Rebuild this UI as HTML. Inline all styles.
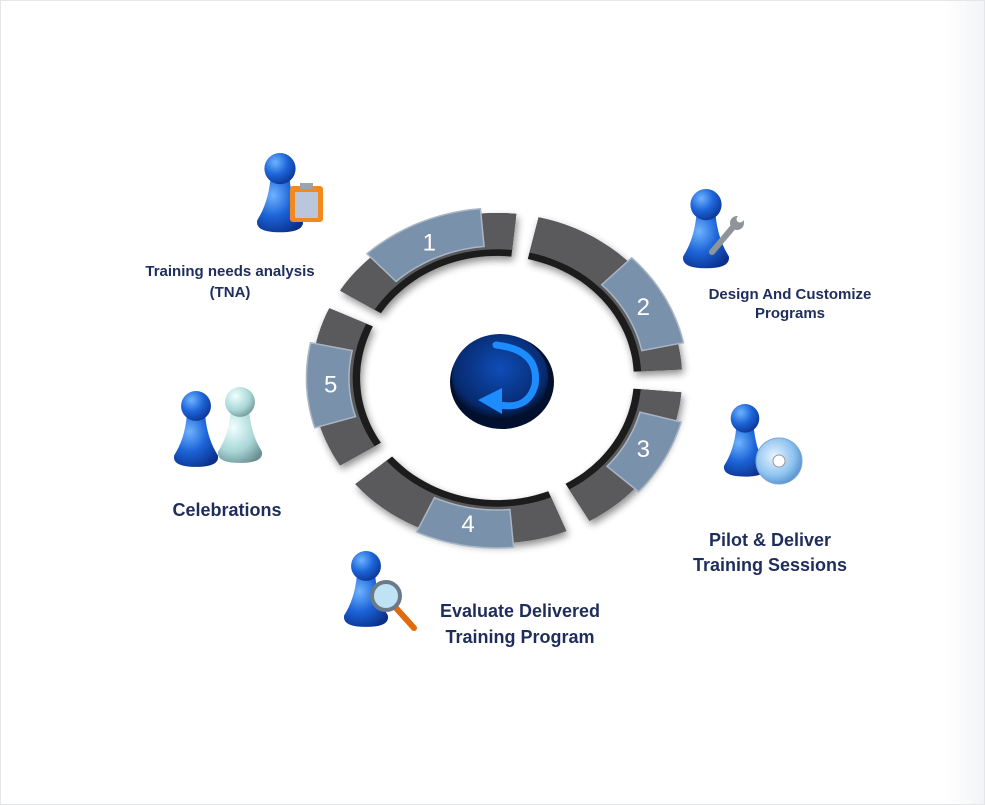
<!DOCTYPE html>
<html><head><meta charset="utf-8"><style>
html,body{margin:0;padding:0;background:#fff;}
body{width:985px;height:805px;overflow:hidden;position:relative;font-family:"Liberation Sans",sans-serif;}
.frame{position:absolute;left:0;top:0;width:983px;height:803px;border:1px solid #e4e6ea;background:linear-gradient(90deg,#fff 0,#fff 96%,#f3f4f6 100%);}
.t{position:absolute;color:#1f2d5c;font-weight:bold;text-align:center;white-space:nowrap;line-height:1;}
</style></head><body>
<div class="frame"></div>
<svg id="s" width="985" height="805" style="position:absolute;left:0;top:0">
<defs>
<radialGradient id="pg" cx="0.35" cy="0.3" r="0.8"><stop offset="0" stop-color="#6fb3ff"/><stop offset="0.5" stop-color="#1c64d8"/><stop offset="1" stop-color="#0b2f8a"/></radialGradient>
<radialGradient id="pg2" cx="0.35" cy="0.3" r="0.8"><stop offset="0" stop-color="#f0ffff"/><stop offset="0.6" stop-color="#a9d6d6"/><stop offset="1" stop-color="#6a8f92"/></radialGradient>
<radialGradient id="cb" cx="0.5" cy="0.4" r="0.6"><stop offset="0" stop-color="#0f4db8"/><stop offset="0.8" stop-color="#072a6e"/><stop offset="1" stop-color="#020c24"/></radialGradient>
<radialGradient id="cd" cx="0.4" cy="0.4" r="0.7"><stop offset="0" stop-color="#e8f4ff"/><stop offset="0.6" stop-color="#8fc3f0"/><stop offset="1" stop-color="#4a86c4"/></radialGradient>
<filter id="sh" x="-20%" y="-20%" width="140%" height="140%"><feGaussianBlur in="SourceAlpha" stdDeviation="4"/><feOffset dx="2" dy="4"/><feComponentTransfer><feFuncA type="linear" slope="0.45"/></feComponentTransfer><feMerge><feMergeNode/><feMergeNode in="SourceGraphic"/></feMerge></filter>
<g id="pawn"><path d="M-8,-18 Q-10,2 -19,16 Q-21,26 0,26 Q21,26 19,16 Q10,2 8,-18 Z"/><circle cx="0" cy="-27" r="13"/></g>
</defs>
<g id="ring" filter="url(#sh)"></g>
<g id="tabs"></g>
<ellipse cx="502" cy="382" rx="52" ry="47" fill="#021030"/>
<ellipse cx="500" cy="377" rx="48" ry="43" fill="url(#cb)"/>
<path d="M496,345 Q540,350 535,385 Q528,410 500,405" fill="none" stroke="#1d8cff" stroke-width="7" stroke-linecap="round"/>
<polygon points="478,400 502,388 502,414" fill="#1d8cff"/>
<use href="#pawn" transform="translate(280,201) scale(1.2)" fill="url(#pg)"/>
<rect x="290" y="186" width="33" height="36" rx="3" fill="#f08a1e"/><rect x="295" y="192" width="23" height="26" fill="#b9c6dc"/><rect x="300" y="183" width="13" height="6" fill="#9aa3b0"/>
<use href="#pawn" transform="translate(706,237) scale(1.2)" fill="url(#pg)"/>
<path d="M712,252 L734,226" stroke="#8f9499" stroke-width="6" stroke-linecap="round"/><circle cx="737" cy="223" r="7" fill="#8f9499"/><circle cx="740" cy="219" r="3.5" fill="#fff"/>
<use href="#pawn" transform="translate(745,448) scale(1.1)" fill="url(#pg)"/>
<circle cx="779" cy="461" r="23" fill="url(#cd)" stroke="#7aa7d4"/><circle cx="779" cy="461" r="6" fill="#fff" stroke="#999"/>
<use href="#pawn" transform="translate(240,433) scale(1.15)" fill="url(#pg2)"/>
<use href="#pawn" transform="translate(196,437) scale(1.15)" fill="url(#pg)"/>
<use href="#pawn" transform="translate(366,597) scale(1.15)" fill="url(#pg)"/>
<line x1="396" y1="608" x2="414" y2="628" stroke="#e06a10" stroke-width="6" stroke-linecap="round"/>
<circle cx="386" cy="596" r="14" fill="#bfe2f5" stroke="#6b7a88" stroke-width="4"/>
</svg>
<div class="t" style="left:110px;top:264px;width:240px;font-size:15px">Training needs analysis</div>
<div class="t" style="left:110px;top:285px;width:240px;font-size:15px">(TNA)</div>
<div class="t" style="left:670px;top:287px;width:240px;font-size:15px">Design And Customize</div>
<div class="t" style="left:670px;top:306px;width:240px;font-size:15px">Programs</div>
<div class="t" style="left:660px;top:531px;width:220px;font-size:18px">Pilot &amp; Deliver</div>
<div class="t" style="left:660px;top:556px;width:220px;font-size:18px">Training Sessions</div>
<div class="t" style="left:410px;top:602px;width:220px;font-size:18px">Evaluate Delivered</div>
<div class="t" style="left:410px;top:628px;width:220px;font-size:18px">Training Program</div>
<div class="t" style="left:117px;top:501px;width:220px;font-size:18px">Celebrations</div>
<script>
(function(){
var cx=497,cy=378,NS="http://www.w3.org/2000/svg";
function pt(a,rx,ry){var r=a*Math.PI/180;return (cx+rx*Math.cos(r)).toFixed(1)+","+(cy+ry*Math.sin(r)).toFixed(1);}
function arc(a0,a1,ro,ri){var d="M"+pt(a0,185*ro,165*ro),n=24,i;
for(i=1;i<=n;i++)d+=" L"+pt(a0+(a1-a0)*i/n,185*ro,165*ro);
for(i=n;i>=0;i--)d+=" L"+pt(a0+(a1-a0)*i/n,185*ri,165*ri);return d+"Z";}
var ring=document.getElementById("ring"),tabs=document.getElementById("tabs");
var segs=[[-148,-84],[-77,-3],[5,60],[68,140],[148,205]];
segs.forEach(function(s){
 var p=document.createElementNS(NS,"path");p.setAttribute("d",arc(s[0],s[1],1,0.74));p.setAttribute("fill","#1b1b1b");ring.appendChild(p);
 var q=document.createElementNS(NS,"path");q.setAttribute("d",arc(s[0],s[1],1,0.78));q.setAttribute("fill","#5a5a5c");ring.appendChild(q);
});
var tb=[[-133,-95,"1"],[-45,-12,"2"],[15,42,"3"],[85,115,"4"],[163,192,"5"]];
tb.forEach(function(t){
 var p=document.createElementNS(NS,"path");p.setAttribute("d",arc(t[0],t[1],1.03,0.8));p.setAttribute("fill","#7a91ab");p.setAttribute("stroke","#a9b6c6");p.setAttribute("stroke-width","1.5");tabs.appendChild(p);
 var m=(t[0]+t[1])/2,r=m*Math.PI/180;
 var x=document.createElementNS(NS,"text");x.setAttribute("x",cx+185*0.9*Math.cos(r));x.setAttribute("y",cy+165*0.9*Math.sin(r)+8);
 x.setAttribute("text-anchor","middle");x.setAttribute("fill","#fff");x.setAttribute("font-size","24");x.setAttribute("font-family","Liberation Sans, sans-serif");x.textContent=t[2];tabs.appendChild(x);
});
})();
</script>
</body></html>
